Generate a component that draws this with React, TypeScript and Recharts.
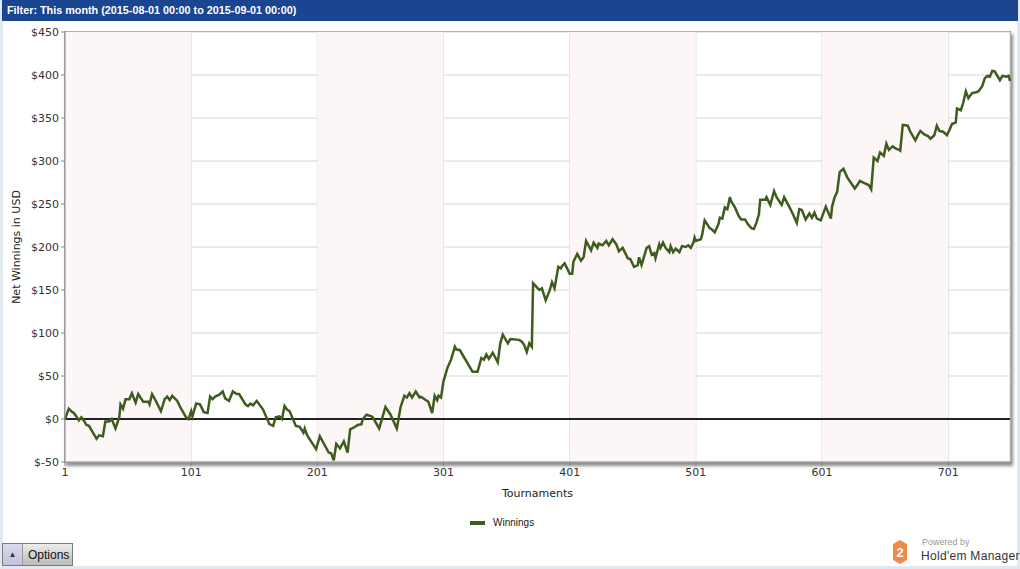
import { CartesianGrid, Label, Line, LineChart, ReferenceArea, ReferenceLine, XAxis, YAxis } from "recharts";

// tournament number -> cumulative net winnings (USD)
const tournaments = [
  1, 4, 6, 8, 10, 12, 14, 16, 18, 20, 26, 28, 31, 33, 36, 38, 41, 44, 45, 47, 49, 52, 54, 57, 59, 63, 67, 68, 70, 73,
  77, 80, 82, 84, 86, 90, 93, 97, 99, 101, 102, 105, 108, 111, 114, 116, 118, 120, 123, 126, 128, 131, 134, 137, 139,
  144, 146, 148, 150, 153, 158, 163, 166, 168, 171, 173, 175, 177, 179, 184, 187, 190, 191, 193, 200, 203, 210, 212,
  214, 216, 219, 222, 225, 227, 231, 233, 236, 237, 240, 244, 245, 250, 255, 259, 264, 267, 270, 272, 274, 276, 279,
  282, 283, 286, 289, 292, 294, 296, 297, 299, 301, 303, 304, 307, 310, 311, 314, 316, 320, 324, 328, 331, 333, 335,
  337, 340, 344, 346, 348, 352, 354, 361, 363, 365, 367, 369, 371, 372, 375, 377, 379, 382, 385, 387, 389, 392, 394,
  395, 397, 401, 403, 404, 407, 410, 412, 414, 418, 420, 423, 424, 427, 430, 432, 435, 438, 440, 443, 447, 449, 452,
  455, 456, 458, 462, 464, 466, 468, 469, 472, 473, 475, 477, 480, 481, 483, 485, 488, 490, 493, 495, 497, 499, 500,
  501, 505, 506, 508, 512, 514, 516, 519, 520, 522, 524, 526, 528, 529, 532, 535, 537, 540, 542, 545, 547, 549, 551,
  552, 556, 557, 560, 563, 565, 569, 571, 575, 578, 581, 583, 585, 588, 591, 593, 595, 597, 600, 604, 608, 609, 611,
  613, 615, 618, 621, 627, 629, 631, 635, 638, 640, 642, 645, 647, 650, 652, 654, 657, 660, 662, 663, 665, 669, 671,
  675, 677, 679, 682, 685, 687, 690, 692, 694, 697, 700, 702, 704, 707, 708, 711, 713, 715, 717, 720, 723, 725, 728,
  730, 732, 734, 736, 738, 742, 744, 747, 749, 750,
];

const winnings = [
  0, 12, 9, 7, 3, -1.5, 2, -2, -7, -8, -23, -19, -20, -3, -3, 0, -11, 2, 17, 12, 23, 23, 30, 19, 29, 20, 20, 17, 29, 21,
  9, 23, 26, 22, 27, 21, 12, 2, 0, 9, 3, 18, 17, 8, 7, 26, 23, 26, 28, 32, 24, 21, 32, 29, 29,
  17, 15, 18, 16, 21, 11, -6, -8, 2, 3, 0, 15, 11, 9, -8, -9, -16, -11, -19, -35, -20, -39, -40,
  -48, -29, -34, -26, -39, -12, -9, -7, -6, 0, 5, 3, 2, -11, 14, 5, -11, 14, 27, 25, 30, 25, 32,
  25, 26, 23, 20, 7, 27, 22, 27, 25, 44, 54, 59, 69, 84, 81, 80, 75, 65, 55, 55, 71, 69, 75,
  70, 77, 66, 88, 98, 88, 93, 92, 90, 86, 78, 88, 84, 158, 153, 150, 152, 138, 149, 159, 152, 177, 175,
  178, 181, 169, 169, 183, 192, 184, 188, 207, 196, 205, 199, 204, 202, 207, 202, 209, 203, 195, 199, 187, 186, 177,
  179, 188, 179, 199, 201, 191, 193, 187, 203, 199, 205, 199, 194, 201, 194, 198, 194, 201, 200, 202, 199, 205, 211,
  207, 209, 214, 231, 222, 220, 217, 227, 234, 233, 246, 244, 258, 253, 246, 236, 232, 232, 227, 222, 221, 228, 238,
  255, 255, 258, 249, 265, 258, 249, 258, 247, 238, 228, 244, 243, 232, 239, 234, 240, 233, 231, 247, 233, 247, 258,
  264, 287, 291, 281, 268, 272, 277, 274, 272, 267, 304, 300, 310, 306, 320, 313, 317, 314, 313, 312, 342, 341, 334,
  324, 330, 335, 331, 329, 326, 330, 341, 335, 334, 330, 336, 343, 345, 361, 359, 368, 381, 373, 379, 380, 381, 387,
  396, 399, 398, 405, 404, 394, 399, 398, 399, 393,
];

const xTicks = [1, 101, 201, 301, 401, 501, 601, 701];
const yTicks = [-50, 0, 50, 100, 150, 200, 250, 300, 350, 400, 450];
const shadedBands = [
  [1, 101],
  [201, 301],
  [401, 501],
  [601, 701],
];

const data = tournaments.map((t, i) => ({ tournament: t, winnings: winnings[i] }));

const LINE_COLOR = "#3e5c1e";
const AXIS_FONT = { fontFamily: "DejaVu Sans", fontSize: 11, fill: "#333" };

function YTitle({ viewBox }: any) {
  const x = viewBox.x + 20;
  const y = viewBox.y + viewBox.height / 2;
  return (
    <text x={x} y={y} transform={`rotate(-90, ${x}, ${y})`} textAnchor="middle" fontFamily="DejaVu Sans" fontSize={11} fill="#222">
      Net Winnings in USD
    </text>
  );
}

function XTitle({ viewBox }: any) {
  return (
    <text x={viewBox.x + viewBox.width / 2} y={viewBox.y + 35} textAnchor="middle" fontFamily="DejaVu Sans" fontSize={11} fill="#222">
      Tournaments
    </text>
  );
}

export default function App() {
  return (
    <div style={{ position: "fixed", left: 0, top: 0, width: 1020, height: 569, background: "#e2e8ef", overflow: "hidden" }}>
      <div
        style={{
          position: "absolute",
          left: 2,
          top: 0,
          width: 1016,
          height: 21,
          background: "#1a4590",
          color: "#fff",
          fontFamily: "Liberation Sans",
          fontWeight: "bold",
          fontSize: 10.8,
          lineHeight: "21px",
          paddingLeft: 5,
          boxSizing: "border-box",
          whiteSpace: "nowrap",
        }}
      >
        Filter: This month (2015-08-01 00:00 to 2015-09-01 00:00)
      </div>
      <div style={{ position: "absolute", left: 3, top: 21, width: 1014, height: 545, background: "#fff" }} />
      {/* plot frame with drop shadow */}
      <div
        style={{
          position: "absolute",
          left: 64,
          top: 31,
          width: 947,
          height: 432,
          boxSizing: "border-box",
          border: "1px solid #888",
          background: "#fff",
          boxShadow: "2px 3px 3px rgba(0,0,0,0.45)",
        }}
      />
      <div style={{ position: "absolute", left: 0, top: 20 }}>
        <LineChart width={1020} height={520} data={data} margin={{ top: 12, right: 10, bottom: 38, left: 0 }}>
          {shadedBands.map(([a, b]) => (
            <ReferenceArea key={a} x1={a} x2={b} fill="#fcf6f6" fillOpacity={1} strokeOpacity={0} />
          ))}
          <CartesianGrid stroke="#d6d6d6" />
          <XAxis
            type="number"
            dataKey="tournament"
            domain={[1, 750]}
            ticks={xTicks}
            interval={0}
            stroke="#888"
            tickSize={4}
            tick={AXIS_FONT}
            height={40}
          >
            <Label content={<XTitle />} />
          </XAxis>
          <YAxis
            type="number"
            domain={[-50, 450]}
            ticks={yTicks}
            interval={0}
            width={65}
            stroke="#888"
            tickSize={4}
            tick={AXIS_FONT}
            tickFormatter={(v) => `$${v}`}
          >
            <Label content={<YTitle />} />
          </YAxis>
          <ReferenceLine y={0} stroke="#222" strokeWidth={2} />
          <Line
            type="linear"
            dataKey="winnings"
            name="Winnings"
            stroke={LINE_COLOR}
            strokeWidth={2.5}
            dot={false}
            isAnimationActive={false}
          />
        </LineChart>
      </div>
      {/* legend */}
      <div style={{ position: "absolute", left: 470, top: 517, display: "flex", alignItems: "center", fontFamily: "Liberation Sans", fontSize: 10, color: "#222", whiteSpace: "nowrap" }}>
        <span style={{ display: "inline-block", width: 15, height: 4, background: LINE_COLOR, marginRight: 8 }} />
        Winnings
      </div>
      {/* options button */}
      <div
        style={{
          position: "absolute",
          left: 2,
          top: 543,
          width: 71,
          height: 23,
          boxSizing: "border-box",
          border: "1px solid #7a7a7a",
          background: "linear-gradient(#ececec, #b9bcbc)",
          display: "flex",
          alignItems: "center",
          fontFamily: "Liberation Sans",
          fontSize: 12,
          color: "#111",
          whiteSpace: "nowrap",
        }}
      >
        <span
          style={{
            width: 19,
            height: 21,
            background: "linear-gradient(#dcdaf0, #c2c0dd)",
            borderRight: "1px solid #9a9a9a",
            display: "flex",
            alignItems: "center",
            justifyContent: "center",
            fontSize: 8,
            color: "#333",
          }}
        >
          ▲
        </span>
        <span style={{ marginLeft: 5 }}>Options</span>
      </div>
      {/* powered by */}
      <svg style={{ position: "absolute", left: 892, top: 539 }} width={16} height={26}>
        <polygon points="8,1 15,5 15,21 8,25 1,21 1,5" fill="#f08a4b" />
        <text x={8} y={18} textAnchor="middle" fontFamily="Liberation Sans" fontWeight="bold" fontSize={13} fill="#fff">
          2
        </text>
      </svg>
      <div style={{ position: "absolute", left: 922, top: 537, fontFamily: "Liberation Sans", fontSize: 9, color: "#999", whiteSpace: "nowrap" }}>
        Powered by
      </div>
      <div style={{ position: "absolute", left: 921, top: 549, fontFamily: "Liberation Sans", fontSize: 12, letterSpacing: 0.3, color: "#333", whiteSpace: "nowrap" }}>
        Hold'em Manager
      </div>
    </div>
  );
}
